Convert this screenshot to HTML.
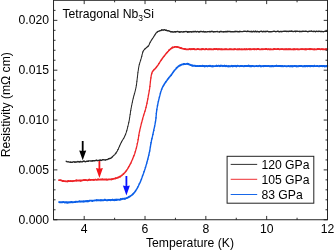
<!DOCTYPE html>
<html><head><meta charset="utf-8"><style>
html,body{margin:0;padding:0;background:#fff}
svg{display:block}
text{font-family:"Liberation Sans",sans-serif;font-size:12.2px;fill:#000;filter:grayscale(1)}
</style></head><body>
<svg width="334" height="251" viewBox="0 0 334 251">
<rect width="334" height="251" fill="#fff"/>
<g fill="none" stroke-linejoin="round" stroke-linecap="round">
<g stroke="#262626"><path d="M66.2 161.2L66.8 161.7L67.6 161.9L68.5 161.8L69.5 162.1L70.5 162.2" stroke-width="1.38"/><path d="M70.5 162.2L71.3 162.3L72.2 162.4L73.1 161.9L74.1 161.8L75.0 162.2" stroke-width="1.40"/><path d="M75.0 162.2L76.0 161.9L76.8 162.0L77.7 161.5L78.6 161.7L79.5 161.9" stroke-width="1.40"/><path d="M79.5 161.9L80.4 161.5L81.3 161.9L82.3 161.8L83.1 161.3L83.9 161.2" stroke-width="1.39"/><path d="M83.9 161.2L84.8 161.5L85.6 161.7L86.5 161.3L87.4 161.1L88.3 161.2" stroke-width="1.40"/><path d="M88.3 161.2L89.1 160.9L90.0 160.9L90.8 161.0L91.7 161.0L92.5 160.8" stroke-width="1.40"/><path d="M92.5 160.8L93.4 160.7L94.2 160.6L95.0 160.7L95.8 160.5L96.6 160.3" stroke-width="1.39"/><path d="M96.6 160.3L97.4 160.7L98.3 160.4L99.2 160.4L100.1 160.0L101.0 160.4" stroke-width="1.40"/><path d="M101.0 160.4L101.9 160.2L102.7 159.7L103.4 159.8L104.0 159.9L105.1 159.9" stroke-width="1.39"/><path d="M105.1 159.9L105.7 160.0L106.5 159.6L107.2 159.6L108.1 159.2L109.0 158.7" stroke-width="1.37"/><path d="M109.0 158.7L109.8 158.5L110.5 158.4L111.3 157.9L111.9 157.3L112.5 156.7" stroke-width="1.30"/><path d="M112.5 156.7L113.3 155.9L114.0 155.2L114.8 154.6L115.3 153.8L115.9 153.1" stroke-width="1.18"/><path d="M115.9 153.1L116.4 152.4L116.8 151.7L117.2 151.1L117.5 150.6L118.0 149.5" stroke-width="1.11"/><path d="M118.0 149.5L118.3 149.0L118.5 148.4L118.9 147.6L119.2 146.9L119.6 146.1" stroke-width="1.07"/><path d="M119.6 146.1L119.9 145.2L120.3 144.4L120.7 143.6L121.1 142.8L121.5 142.0" stroke-width="1.07"/><path d="M121.5 142.0L121.9 141.2L122.3 140.5L122.7 139.8L123.1 139.2L123.6 138.4" stroke-width="1.10"/><path d="M123.6 138.4L124.0 137.7L124.4 136.9L124.8 136.1L125.2 135.2L125.6 134.3" stroke-width="1.08"/><path d="M125.6 134.3L125.8 133.6L126.1 132.9L126.3 132.2L126.5 131.5L126.8 130.7" stroke-width="1.04"/><path d="M126.8 130.7L127.0 129.9L127.2 129.1L127.4 128.3L127.6 127.5L127.8 126.7" stroke-width="1.03"/><path d="M127.8 126.7L128.0 125.8L128.2 125.0L128.4 124.2L128.6 123.3L128.8 122.5" stroke-width="1.02"/><path d="M128.8 122.5L129.0 121.7L129.1 120.9L129.3 120.1L129.4 119.3L129.5 118.5" stroke-width="1.01"/><path d="M129.5 118.5L129.7 117.7L129.8 116.8L129.9 116.0L130.0 115.2L130.2 114.3" stroke-width="1.01"/><path d="M130.2 114.3L130.3 113.5L130.4 112.7L130.5 111.9L130.6 111.1L130.8 110.4" stroke-width="1.01"/><path d="M130.8 110.4L130.9 109.6L131.1 108.7L131.2 107.8L131.4 107.0L131.5 106.1" stroke-width="1.01"/><path d="M131.5 106.1L131.7 105.3L131.9 104.5L132.0 103.7L132.2 102.9L132.4 102.1" stroke-width="1.02"/><path d="M132.4 102.1L132.5 101.3L132.7 100.4L132.9 99.6L133.1 98.8L133.3 98.0" stroke-width="1.02"/><path d="M133.3 98.0L133.5 97.1L133.7 96.3L134.0 95.5L134.2 94.6L134.4 93.8" stroke-width="1.03"/><path d="M134.4 93.8L134.7 93.0L134.9 92.2L135.1 91.3L135.3 90.5L135.5 89.7" stroke-width="1.03"/><path d="M135.5 89.7L135.7 88.8L135.9 88.0L136.1 87.2L136.2 86.3L136.3 85.5" stroke-width="1.01"/><path d="M136.3 85.5L136.5 84.7L136.6 83.8L136.7 83.0L136.8 82.1L136.9 81.3" stroke-width="1.01"/><path d="M136.9 81.3L137.0 80.4L137.1 79.6L137.2 78.8L137.3 77.9L137.4 77.1" stroke-width="1.01"/><path d="M137.4 77.1L137.5 76.3L137.6 75.4L137.7 74.6L137.8 73.7L137.9 72.8" stroke-width="1.01"/><path d="M137.9 72.8L138.0 72.0L138.1 71.1L138.3 70.3L138.4 69.4L138.5 68.6" stroke-width="1.01"/><path d="M138.5 68.6L138.6 67.8L138.8 67.1L138.9 66.3L139.1 65.4L139.3 64.5" stroke-width="1.02"/><path d="M139.3 64.5L139.6 63.6L139.8 62.7L140.1 61.9L140.3 61.1L140.6 60.3" stroke-width="1.03"/><path d="M140.6 60.3L140.8 59.5L141.1 58.7L141.3 57.9L141.5 57.0L141.8 56.2" stroke-width="1.03"/><path d="M141.8 56.2L142.0 55.3L142.1 54.5L142.4 53.7L142.6 52.9L142.8 52.1" stroke-width="1.03"/><path d="M142.8 52.1L143.1 51.4L143.5 50.7L144.0 50.0L144.6 49.3L145.2 48.7" stroke-width="1.13"/><path d="M145.2 48.7L145.9 48.1L146.6 47.5L147.2 47.1L147.8 46.5L148.3 46.0" stroke-width="1.22"/><path d="M148.3 46.0L148.9 45.2L149.2 44.5L149.5 43.7L149.8 43.0L150.3 42.1" stroke-width="1.08"/><path d="M150.3 42.1L150.7 41.5L151.1 40.8L151.5 40.1L152.0 39.3L152.5 38.6" stroke-width="1.11"/><path d="M152.5 38.6L152.9 38.0L153.4 37.3L153.8 36.6L154.3 35.8L154.8 35.0" stroke-width="1.12"/><path d="M154.8 35.0L155.3 34.3L155.7 33.6L156.2 32.9L156.7 32.5L157.5 31.8" stroke-width="1.17"/><path d="M157.5 31.8L158.3 31.3L159.1 31.2L160.0 30.6L160.8 30.6L161.7 30.0" stroke-width="1.34"/><path d="M161.7 30.0L162.6 29.9L163.5 30.2L164.3 29.7L165.3 30.2L166.2 30.3" stroke-width="1.40"/><path d="M166.2 30.3L167.1 30.7L168.0 30.7L169.1 31.0L170.0 31.3L171.0 31.8" stroke-width="1.36"/><path d="M171.0 31.8L172.0 31.8L172.9 32.0L174.0 32.0L174.8 31.6L175.7 31.8" stroke-width="1.40"/><path d="M175.7 31.8L176.6 31.6L177.4 31.5L178.0 31.5L178.8 32.0L179.6 32.0" stroke-width="1.40"/><path d="M179.6 32.0L180.4 32.0L181.2 31.7L182.0 31.9L182.8 32.0L183.6 31.7" stroke-width="1.40"/><path d="M183.6 31.7L184.4 31.8L185.2 31.6L186.0 31.5L186.8 31.6L187.6 32.0" stroke-width="1.40"/><path d="M187.6 32.0L188.4 31.8L189.2 32.0L190.0 31.7L190.8 31.6L191.6 31.9" stroke-width="1.40"/><path d="M191.6 31.9L192.4 31.9L193.2 31.5L194.0 31.8L194.8 31.5L195.6 31.5" stroke-width="1.40"/><path d="M195.6 31.5L196.4 32.0L197.2 31.5L198.0 31.6L198.8 32.0L199.6 31.7" stroke-width="1.40"/><path d="M199.6 31.7L200.4 31.5L201.2 31.5L202.0 31.6L202.8 31.9L203.6 31.5" stroke-width="1.40"/><path d="M203.6 31.5L204.4 32.0L205.2 31.6L206.0 32.0L206.8 31.9L207.6 31.6" stroke-width="1.40"/><path d="M207.6 31.6L208.4 31.6L209.2 31.7L210.0 31.5L210.8 31.8L211.6 31.4" stroke-width="1.40"/><path d="M211.6 31.4L212.4 31.4L213.2 32.0L214.0 31.6L214.8 31.7L215.6 31.6" stroke-width="1.40"/><path d="M215.6 31.6L216.4 31.6L217.2 31.4L218.0 31.9L218.8 31.9L219.6 31.9" stroke-width="1.40"/><path d="M219.6 31.9L220.4 31.4L221.2 31.5L222.0 31.7L222.8 31.9L223.6 31.7" stroke-width="1.40"/><path d="M223.6 31.7L224.4 31.8L225.2 31.7L226.0 31.5L226.8 31.7L227.6 31.5" stroke-width="1.40"/><path d="M227.6 31.5L228.4 31.5L229.2 31.4L230.0 31.5L230.8 31.9L231.6 31.6" stroke-width="1.40"/><path d="M231.6 31.6L232.4 31.7L233.2 31.7L234.0 31.9L234.8 31.5L235.6 31.5" stroke-width="1.40"/><path d="M235.6 31.5L236.4 31.5L237.2 31.5L238.0 31.8L238.8 31.8L239.6 31.5" stroke-width="1.40"/><path d="M239.6 31.5L240.4 31.5L241.2 31.6L242.0 31.6L242.8 31.6L243.6 31.4" stroke-width="1.40"/><path d="M243.6 31.4L244.4 31.3L245.2 31.4L246.0 31.3L246.8 31.6L247.6 31.3" stroke-width="1.40"/><path d="M247.6 31.3L248.4 31.3L249.2 31.6L250.0 31.4L250.8 31.7L251.6 31.5" stroke-width="1.40"/><path d="M251.6 31.5L252.4 31.8L253.2 31.3L254.0 31.5L254.8 31.7L255.6 31.3" stroke-width="1.40"/><path d="M255.6 31.3L256.4 31.8L257.2 31.3L258.0 31.7L258.8 31.8L259.6 31.7" stroke-width="1.40"/><path d="M259.6 31.7L260.4 31.4L261.2 31.3L262.0 31.5L262.8 31.8L263.6 31.4" stroke-width="1.40"/><path d="M263.6 31.4L264.4 31.7L265.2 31.3L266.0 31.8L266.8 31.2L267.6 31.4" stroke-width="1.40"/><path d="M267.6 31.4L268.4 31.7L269.2 31.7L270.0 31.7L270.8 31.7L271.6 31.6" stroke-width="1.40"/><path d="M271.6 31.6L272.4 31.6L273.2 31.3L274.0 31.4L274.8 31.3L275.6 31.6" stroke-width="1.40"/><path d="M275.6 31.6L276.4 31.6L277.2 31.3L278.0 31.2L278.8 31.7L279.6 31.6" stroke-width="1.40"/><path d="M279.6 31.6L280.4 31.5L281.2 31.5L282.0 31.7L282.8 31.4L283.6 31.4" stroke-width="1.40"/><path d="M283.6 31.4L284.4 31.3L285.2 31.3L286.0 31.2L286.8 31.5L287.6 31.4" stroke-width="1.40"/><path d="M287.6 31.4L288.4 31.5L289.2 31.2L290.0 31.3L290.8 31.2L291.6 31.2" stroke-width="1.40"/><path d="M291.6 31.2L292.4 31.3L293.2 31.6L294.0 31.4L294.8 31.3L295.6 31.5" stroke-width="1.40"/><path d="M295.6 31.5L296.4 31.2L297.2 31.1L298.0 31.4L298.8 31.4L299.6 31.5" stroke-width="1.40"/><path d="M299.6 31.5L300.4 31.4L301.2 31.5L302.0 31.5L302.8 31.2L303.6 31.4" stroke-width="1.40"/><path d="M303.6 31.4L304.4 31.4L305.2 31.2L306.0 31.3L306.8 31.4L307.6 31.6" stroke-width="1.40"/><path d="M307.6 31.6L308.4 31.6L309.2 31.2L310.0 31.4L310.8 31.1L311.6 31.1" stroke-width="1.39"/><path d="M311.6 31.1L312.4 31.4L313.2 31.6L314.0 31.1L314.8 31.5L315.6 31.6" stroke-width="1.39"/><path d="M315.6 31.6L316.4 31.2L317.2 31.4L318.0 31.5L318.8 31.3L319.6 31.4" stroke-width="1.40"/><path d="M319.6 31.4L320.4 31.5L321.2 31.4L322.0 31.5L322.8 31.6L323.6 31.6" stroke-width="1.40"/><path d="M323.6 31.6L324.4 31.4L325.2 31.1L326.0 31.2L326.8 31.1L327.3 31.3" stroke-width="1.40"/></g>
<g stroke="#ee2428"><path d="M59.0 180.1L59.5 180.2L60.2 180.0L61.1 180.3L62.0 180.8L63.0 181.0" stroke-width="1.82"/><path d="M63.0 181.0L64.1 181.2L65.1 181.1L65.9 181.3L66.7 181.3L67.5 181.3" stroke-width="1.85"/><path d="M67.5 181.3L68.4 181.0L69.3 181.1L70.2 181.0L71.1 181.1L72.1 181.2" stroke-width="1.85"/><path d="M72.1 181.2L73.0 181.1L73.8 180.9L74.6 180.8L75.5 180.7L76.3 180.5" stroke-width="1.83"/><path d="M76.3 180.5L77.2 180.5L78.0 180.6L78.9 180.5L79.8 180.5L80.6 180.7" stroke-width="1.85"/><path d="M80.6 180.7L81.5 180.5L82.3 180.4L83.2 180.2L84.1 180.0L85.0 180.1" stroke-width="1.84"/><path d="M85.0 180.1L85.8 180.0L86.7 180.1L87.6 180.3L88.4 180.0L89.3 179.7" stroke-width="1.85"/><path d="M89.3 179.7L90.1 180.0L91.0 179.9L91.9 179.9L92.8 179.9L93.7 179.8" stroke-width="1.85"/><path d="M93.7 179.8L94.6 179.8L95.5 179.5L96.4 179.8L97.3 179.8L98.1 179.4" stroke-width="1.84"/><path d="M98.1 179.4L98.9 179.6L99.6 179.6L100.7 179.5L101.7 179.5L102.5 179.4" stroke-width="1.85"/><path d="M102.5 179.4L103.4 179.6L104.2 179.4L105.0 179.6L106.0 179.3L106.9 179.6" stroke-width="1.85"/><path d="M106.9 179.6L107.8 179.6L108.7 179.3L109.6 179.3L110.6 179.4L111.6 179.3" stroke-width="1.85"/><path d="M111.6 179.3L112.6 179.0L113.5 178.8L114.3 178.7L115.1 178.6L115.8 178.2" stroke-width="1.81"/><path d="M115.8 178.2L116.7 178.2L117.5 177.6L118.3 177.5L119.2 176.9L120.1 176.6" stroke-width="1.78"/><path d="M120.1 176.6L121.0 176.0L121.6 175.5L122.3 175.0L122.9 174.5L123.5 173.9" stroke-width="1.62"/><path d="M123.5 173.9L124.1 173.3L124.8 172.6L125.4 171.9L125.9 171.3L126.4 170.6" stroke-width="1.51"/><path d="M126.4 170.6L126.9 169.8L127.4 169.1L127.9 168.3L128.4 167.5L128.8 166.7" stroke-width="1.42"/><path d="M128.8 166.7L129.3 165.9L129.7 165.2L130.1 164.4L130.5 163.7L130.9 163.0" stroke-width="1.39"/><path d="M130.9 163.0L131.2 162.3L131.5 161.5L131.8 160.8L132.2 160.0L132.5 159.2" stroke-width="1.35"/><path d="M132.5 159.2L132.8 158.5L133.1 157.8L133.4 157.1L133.6 156.4L133.9 155.7" stroke-width="1.33"/><path d="M133.9 155.7L134.2 154.9L134.5 154.2L134.8 153.4L135.0 152.5L135.3 151.7" stroke-width="1.31"/><path d="M135.3 151.7L135.5 151.0L135.7 150.2L135.9 149.5L136.1 148.7L136.4 147.9" stroke-width="1.29"/><path d="M136.4 147.9L136.6 147.1L136.8 146.2L137.0 145.4L137.1 144.6L137.3 143.7" stroke-width="1.28"/><path d="M137.3 143.7L137.5 142.9L137.7 142.0L137.9 141.2L138.0 140.4L138.1 139.6" stroke-width="1.27"/><path d="M138.1 139.6L138.3 138.8L138.4 138.0L138.5 137.2L138.7 136.3L138.8 135.5" stroke-width="1.26"/><path d="M138.8 135.5L138.9 134.6L139.1 133.8L139.2 132.9L139.4 132.0L139.6 131.1" stroke-width="1.27"/><path d="M139.6 131.1L139.8 130.3L139.9 129.6L140.1 128.8L140.3 128.0L140.5 127.1" stroke-width="1.28"/><path d="M140.5 127.1L140.7 126.3L140.9 125.5L141.1 124.6L141.3 123.8L141.5 123.0" stroke-width="1.29"/><path d="M141.5 123.0L141.8 122.1L142.0 121.3L142.2 120.5L142.4 119.7L142.6 119.0" stroke-width="1.29"/><path d="M142.6 119.0L142.8 118.2L143.0 117.4L143.3 116.5L143.5 115.7L143.7 115.0" stroke-width="1.30"/><path d="M143.7 115.0L144.0 114.2L144.2 113.4L144.5 112.7L144.7 111.9L144.9 111.2" stroke-width="1.30"/><path d="M144.9 111.2L145.2 110.4L145.4 109.7L145.6 108.9L145.8 108.2L146.0 107.4" stroke-width="1.29"/><path d="M146.0 107.4L146.2 106.6L146.4 105.7L146.6 104.9L146.8 104.0L147.0 103.1" stroke-width="1.28"/><path d="M147.0 103.1L147.1 102.3L147.3 101.4L147.5 100.6L147.6 99.8L147.8 98.9" stroke-width="1.27"/><path d="M147.8 98.9L147.9 98.1L148.1 97.4L148.2 96.6L148.4 95.7L148.5 94.8" stroke-width="1.27"/><path d="M148.5 94.8L148.7 93.9L148.9 93.1L149.0 92.3L149.1 91.5L149.3 90.7" stroke-width="1.27"/><path d="M149.3 90.7L149.4 89.8L149.6 88.9L149.7 88.0L149.8 87.2L149.9 86.4" stroke-width="1.26"/><path d="M149.9 86.4L150.0 85.5L150.1 84.6L150.2 83.7L150.3 82.8L150.4 81.9" stroke-width="1.26"/><path d="M150.4 81.9L150.5 81.0L150.6 80.1L150.7 79.3L150.8 78.5L150.9 77.8" stroke-width="1.26"/><path d="M150.9 77.8L151.0 77.1L151.2 76.0L151.3 75.1L151.5 74.4L151.7 73.7" stroke-width="1.27"/><path d="M151.7 73.7L151.9 73.0L152.1 72.4L152.5 71.7L152.9 71.0L153.5 70.4" stroke-width="1.39"/><path d="M153.5 70.4L154.0 69.7L154.7 69.1L155.3 68.5L156.0 67.8L156.6 66.9" stroke-width="1.52"/><path d="M156.6 66.9L157.0 66.4L157.5 65.7L158.0 65.1L158.4 64.3L158.9 63.6" stroke-width="1.44"/><path d="M158.9 63.6L159.4 62.8L159.8 62.1L160.3 61.4L160.7 60.8L161.2 60.1" stroke-width="1.43"/><path d="M161.2 60.1L161.8 59.3L162.3 58.5L162.8 57.8L163.4 57.1L163.9 56.4" stroke-width="1.46"/><path d="M163.9 56.4L164.4 55.8L165.0 55.0L165.5 54.4L166.0 53.7L166.6 53.0" stroke-width="1.48"/><path d="M166.6 53.0L167.2 52.5L167.7 51.8L168.3 51.2L168.8 50.6L169.3 50.0" stroke-width="1.52"/><path d="M169.3 50.0L169.8 49.6L170.5 49.0L171.2 48.5L171.8 48.0L172.5 47.5" stroke-width="1.62"/><path d="M172.5 47.5L173.2 47.3L174.1 47.2L175.0 46.8L175.9 46.8L176.9 46.8" stroke-width="1.83"/><path d="M176.9 46.8L177.8 47.1L178.6 47.2L179.5 47.6L180.3 48.0L181.1 48.1" stroke-width="1.80"/><path d="M181.1 48.1L181.9 48.4L182.8 48.7L183.6 48.8L184.5 49.0L185.4 49.2" stroke-width="1.81"/><path d="M185.4 49.2L186.2 49.4L187.3 49.3L188.4 49.4L189.3 49.0L190.0 49.1" stroke-width="1.85"/><path d="M190.0 49.1L190.8 49.4L191.6 49.0L192.4 49.2L193.2 49.0L194.0 49.0" stroke-width="1.85"/><path d="M194.0 49.0L194.8 49.4L195.6 49.4L196.4 49.3L197.2 49.0L198.0 49.1" stroke-width="1.85"/><path d="M198.0 49.1L198.8 49.1L199.6 49.3L200.4 49.3L201.2 49.2L202.0 49.2" stroke-width="1.85"/><path d="M202.0 49.2L202.8 49.0L203.6 49.2L204.4 49.4L205.2 49.3L206.0 49.0" stroke-width="1.85"/><path d="M206.0 49.0L206.8 49.2L207.6 49.3L208.4 49.1L209.2 49.4L210.0 49.2" stroke-width="1.85"/><path d="M210.0 49.2L210.8 49.3L211.6 49.2L212.4 49.4L213.2 49.3L214.0 49.2" stroke-width="1.85"/><path d="M214.0 49.2L214.8 49.0L215.6 49.2L216.4 49.0L217.2 49.2L218.0 49.4" stroke-width="1.85"/><path d="M218.0 49.4L218.8 49.0L219.6 49.2L220.4 49.2L221.2 49.2L222.0 49.3" stroke-width="1.85"/><path d="M222.0 49.3L222.8 49.4L223.6 49.3L224.4 49.2L225.2 49.4L226.0 49.1" stroke-width="1.85"/><path d="M226.0 49.1L226.8 49.3L227.6 49.3L228.4 49.3L229.2 49.4L230.0 49.1" stroke-width="1.85"/><path d="M230.0 49.1L230.8 49.3L231.6 49.2L232.4 49.3L233.2 49.4L234.0 49.3" stroke-width="1.85"/><path d="M234.0 49.3L234.8 49.0L235.6 49.2L236.4 49.3L237.2 49.4L238.0 49.3" stroke-width="1.85"/><path d="M238.0 49.3L238.8 49.4L239.6 49.0L240.4 49.4L241.2 49.3L242.0 49.3" stroke-width="1.85"/><path d="M242.0 49.3L242.8 49.4L243.6 49.4L244.4 49.0L245.2 49.4L246.0 49.3" stroke-width="1.85"/><path d="M246.0 49.3L246.8 49.0L247.6 49.3L248.4 49.2L249.2 49.0L250.0 49.4" stroke-width="1.85"/><path d="M250.0 49.4L250.8 49.0L251.6 49.3L252.4 49.2L253.2 49.1L254.0 49.2" stroke-width="1.85"/><path d="M254.0 49.2L254.8 49.2L255.6 49.1L256.4 49.4L257.2 49.0L258.0 49.0" stroke-width="1.85"/><path d="M258.0 49.0L258.8 49.2L259.6 49.4L260.4 49.3L261.2 49.3L262.0 49.2" stroke-width="1.85"/><path d="M262.0 49.2L262.8 49.3L263.6 49.1L264.4 49.1L265.2 49.2L266.0 49.0" stroke-width="1.85"/><path d="M266.0 49.0L266.8 49.0L267.6 49.3L268.4 49.0L269.2 49.3L270.0 49.3" stroke-width="1.84"/><path d="M270.0 49.3L270.8 49.2L271.6 49.3L272.4 49.3L273.2 49.4L274.0 49.0" stroke-width="1.85"/><path d="M274.0 49.0L274.8 49.0L275.6 49.1L276.4 49.2L277.2 49.1L278.0 49.0" stroke-width="1.85"/><path d="M278.0 49.0L278.8 49.2L279.6 49.4L280.4 49.1L281.2 49.2L282.0 49.1" stroke-width="1.85"/><path d="M282.0 49.1L282.8 49.2L283.6 49.4L284.4 49.1L285.2 49.3L286.0 49.2" stroke-width="1.85"/><path d="M286.0 49.2L286.8 49.2L287.6 49.4L288.4 49.0L289.2 49.4L290.0 49.1" stroke-width="1.85"/><path d="M290.0 49.1L290.8 49.3L291.6 49.3L292.4 49.3L293.2 49.1L294.0 49.4" stroke-width="1.85"/><path d="M294.0 49.4L294.8 49.0L295.6 49.3L296.4 49.1L297.2 49.2L298.0 49.4" stroke-width="1.85"/><path d="M298.0 49.4L298.8 49.3L299.6 49.3L300.4 49.1L301.2 49.1L302.0 49.2" stroke-width="1.85"/><path d="M302.0 49.2L302.8 49.1L303.6 49.1L304.4 49.4L305.2 49.0L306.0 49.4" stroke-width="1.85"/><path d="M306.0 49.4L306.8 49.1L307.6 49.1L308.4 49.1L309.2 49.0L310.0 49.2" stroke-width="1.85"/><path d="M310.0 49.2L310.8 49.0L311.6 49.2L312.4 49.1L313.2 49.4L314.0 49.4" stroke-width="1.85"/><path d="M314.0 49.4L314.8 49.2L315.6 49.3L316.4 49.4L317.2 49.1L318.0 49.0" stroke-width="1.84"/><path d="M318.0 49.0L318.8 49.1L319.6 49.0L320.4 49.3L321.2 49.1L322.0 49.1" stroke-width="1.85"/><path d="M322.0 49.1L322.8 49.3L323.6 49.1L324.4 49.4L325.2 49.3L326.0 49.2" stroke-width="1.85"/><path d="M326.0 49.2L326.8 49.4L327.3 49.1" stroke-width="1.85"/></g>
<g stroke="#0b5fe8"><path d="M59.2 202.1L59.7 202.2L60.4 202.2L61.2 202.3L62.2 202.3L63.1 202.1" stroke-width="1.95"/><path d="M63.1 202.1L64.1 202.1L65.0 202.5L65.8 202.2L66.5 202.2L67.2 202.6" stroke-width="1.94"/><path d="M67.2 202.6L68.0 202.3L68.7 202.5L69.6 202.3L70.5 202.3L71.5 202.0" stroke-width="1.94"/><path d="M71.5 202.0L72.2 202.2L72.9 202.3L73.6 202.1L74.4 202.1L75.2 202.0" stroke-width="1.95"/><path d="M75.2 202.0L76.0 201.7L76.9 201.9L77.7 201.8L78.6 201.6L79.5 201.4" stroke-width="1.94"/><path d="M79.5 201.4L80.3 201.7L81.2 201.4L82.0 201.5L82.8 201.5L83.7 201.4" stroke-width="1.95"/><path d="M83.7 201.4L84.5 201.4L85.4 201.1L86.2 201.2L87.1 201.0L88.0 201.2" stroke-width="1.95"/><path d="M88.0 201.2L88.8 201.1L89.7 200.6L90.5 200.6L91.4 200.6L92.3 200.9" stroke-width="1.95"/><path d="M92.3 200.9L93.1 200.6L94.0 200.6L94.8 200.4L95.7 200.4L96.6 200.3" stroke-width="1.94"/><path d="M96.6 200.3L97.5 200.3L98.4 200.3L99.2 200.3L100.1 200.4L100.9 200.2" stroke-width="1.95"/><path d="M100.9 200.2L101.7 200.3L102.5 200.2L103.3 200.3L104.0 200.1L105.0 199.8" stroke-width="1.94"/><path d="M105.0 199.8L105.8 200.1L106.7 200.2L107.5 200.2L108.2 200.0L108.9 200.1" stroke-width="1.95"/><path d="M108.9 200.1L109.7 199.9L110.4 200.2L111.2 200.0L112.0 199.9L112.8 199.8" stroke-width="1.95"/><path d="M112.8 199.8L113.6 200.1L114.4 200.2L115.2 199.7L116.0 200.0L116.8 199.8" stroke-width="1.95"/><path d="M116.8 199.8L117.6 199.6L118.4 199.6L119.2 199.7L120.1 199.7L120.9 199.1" stroke-width="1.93"/><path d="M120.9 199.1L121.8 199.2L122.6 198.8L123.4 198.9L124.2 198.6L124.9 198.7" stroke-width="1.94"/><path d="M124.9 198.7L125.6 198.5L126.7 198.0L127.6 197.8L128.4 197.2L129.2 196.7" stroke-width="1.85"/><path d="M129.2 196.7L129.9 196.5L130.7 195.9L131.4 195.4L132.1 194.9L132.7 194.3" stroke-width="1.76"/><path d="M132.7 194.3L133.3 193.7L133.8 193.1L134.4 192.6L134.9 191.9L135.4 191.2" stroke-width="1.61"/><path d="M135.4 191.2L135.9 190.4L136.5 189.5L137.0 188.6L137.4 187.9L137.7 187.2" stroke-width="1.50"/><path d="M137.7 187.2L138.1 186.5L138.5 185.8L138.8 185.0L139.2 184.2L139.5 183.5" stroke-width="1.46"/><path d="M139.5 183.5L139.8 182.9L140.2 182.3L140.5 181.5L140.9 180.5L141.4 179.2" stroke-width="1.45"/><path d="M141.4 179.2L141.6 178.6L141.8 178.0L142.1 177.3L142.3 176.6L142.6 175.8" stroke-width="1.42"/><path d="M142.6 175.8L142.9 175.0L143.2 174.2L143.5 173.4L143.8 172.5L144.1 171.6" stroke-width="1.42"/><path d="M144.1 171.6L144.4 170.8L144.7 169.9L145.0 169.0L145.2 168.2L145.5 167.3" stroke-width="1.41"/><path d="M145.5 167.3L145.8 166.5L146.0 165.7L146.2 164.9L146.5 164.0L146.7 163.2" stroke-width="1.40"/><path d="M146.7 163.2L146.9 162.4L147.2 161.6L147.4 160.7L147.6 159.9L147.8 159.1" stroke-width="1.39"/><path d="M147.8 159.1L148.0 158.3L148.2 157.5L148.4 156.7L148.6 155.9L148.8 155.1" stroke-width="1.38"/><path d="M148.8 155.1L149.0 154.3L149.1 153.5L149.3 152.8L149.5 151.9L149.7 151.0" stroke-width="1.38"/><path d="M149.7 151.0L149.8 150.2L150.0 149.3L150.1 148.5L150.2 147.7L150.4 146.9" stroke-width="1.37"/><path d="M150.4 146.9L150.5 146.1L150.6 145.3L150.8 144.5L150.9 143.6L151.0 142.8" stroke-width="1.37"/><path d="M151.0 142.8L151.2 142.0L151.4 141.2L151.5 140.3L151.7 139.5L151.9 138.7" stroke-width="1.37"/><path d="M151.9 138.7L152.1 137.8L152.3 137.0L152.5 136.1L152.7 135.3L152.9 134.4" stroke-width="1.38"/><path d="M152.9 134.4L153.1 133.6L153.2 132.8L153.4 131.9L153.6 131.1L153.8 130.3" stroke-width="1.38"/><path d="M153.8 130.3L153.9 129.4L154.1 128.6L154.3 127.8L154.5 126.9L154.6 126.1" stroke-width="1.38"/><path d="M154.6 126.1L154.8 125.3L155.0 124.4L155.1 123.6L155.3 122.8L155.4 122.0" stroke-width="1.37"/><path d="M155.4 122.0L155.6 121.1L155.7 120.3L155.8 119.5L155.9 118.6L156.0 117.8" stroke-width="1.36"/><path d="M156.0 117.8L156.1 117.0L156.1 116.2L156.2 115.4L156.3 114.5L156.3 113.7" stroke-width="1.35"/><path d="M156.3 113.7L156.4 112.9L156.5 112.1L156.6 111.3L156.7 110.4L156.8 109.6" stroke-width="1.36"/><path d="M156.8 109.6L156.9 108.8L157.1 107.9L157.2 107.1L157.4 106.3L157.5 105.5" stroke-width="1.37"/><path d="M157.5 105.5L157.7 104.6L157.9 103.8L158.0 103.0L158.2 102.1L158.4 101.3" stroke-width="1.38"/><path d="M158.4 101.3L158.6 100.5L158.8 99.6L159.0 98.8L159.2 98.0L159.4 97.2" stroke-width="1.38"/><path d="M159.4 97.2L159.6 96.4L159.8 95.7L160.0 94.9L160.2 94.1L160.4 93.3" stroke-width="1.39"/><path d="M160.4 93.3L160.6 92.5L160.8 91.7L161.1 90.9L161.3 90.2L161.6 89.4" stroke-width="1.40"/><path d="M161.6 89.4L161.9 88.7L162.2 88.0L162.6 87.2L163.0 86.4L163.5 85.6" stroke-width="1.46"/><path d="M163.5 85.6L163.9 84.8L164.4 84.0L164.9 83.2L165.4 82.5L165.9 81.8" stroke-width="1.53"/><path d="M165.9 81.8L166.4 81.1L166.9 80.5L167.3 79.8L167.7 79.3L168.4 78.4" stroke-width="1.55"/><path d="M168.4 78.4L169.0 77.6L169.5 77.0L170.0 76.4L170.5 75.9L171.1 75.2" stroke-width="1.60"/><path d="M171.1 75.2L171.6 74.5L172.1 73.8L172.6 73.0L173.1 72.3L173.6 71.6" stroke-width="1.54"/><path d="M173.6 71.6L174.1 70.8L174.7 70.1L175.3 69.6L175.9 68.9L176.5 68.1" stroke-width="1.59"/><path d="M176.5 68.1L177.1 67.5L177.8 66.9L178.4 66.3L179.0 65.9L179.9 65.5" stroke-width="1.72"/><path d="M179.9 65.5L180.7 65.1L181.6 64.7L182.5 64.4L183.3 64.3L184.1 64.0" stroke-width="1.89"/><path d="M184.1 64.0L185.0 64.1L185.8 64.1L186.6 63.9L187.4 63.8L188.2 64.0" stroke-width="1.95"/><path d="M188.2 64.0L189.0 64.3L189.8 64.7L190.6 65.1L191.4 65.1L192.3 65.6" stroke-width="1.87"/><path d="M192.3 65.6L193.1 65.7L193.9 65.7L194.8 65.8L195.7 66.0L196.6 66.1" stroke-width="1.94"/><path d="M196.6 66.1L197.6 66.0L198.4 66.1L199.0 66.0L199.8 65.9L200.6 66.0" stroke-width="1.95"/><path d="M200.6 66.0L201.4 66.1L202.2 65.8L203.0 66.0L203.8 66.0L204.6 66.2" stroke-width="1.95"/><path d="M204.6 66.2L205.4 66.2L206.2 65.9L207.0 66.2L207.8 66.2L208.6 65.9" stroke-width="1.95"/><path d="M208.6 65.9L209.4 66.0L210.2 65.8L211.0 66.2L211.8 66.1L212.6 66.2" stroke-width="1.95"/><path d="M212.6 66.2L213.4 66.2L214.2 66.1L215.0 66.1L215.8 66.0L216.6 65.8" stroke-width="1.94"/><path d="M216.6 65.8L217.4 66.1L218.2 65.8L219.0 65.8L219.8 66.2L220.6 65.8" stroke-width="1.95"/><path d="M220.6 65.8L221.4 65.8L222.2 65.8L223.0 66.2L223.8 65.9L224.6 65.8" stroke-width="1.95"/><path d="M224.6 65.8L225.4 66.2L226.2 65.8L227.0 66.2L227.8 66.1L228.6 66.2" stroke-width="1.94"/><path d="M228.6 66.2L229.4 66.2L230.2 66.1L231.0 66.2L231.8 65.8L232.6 66.2" stroke-width="1.95"/><path d="M232.6 66.2L233.4 66.0L234.2 66.1L235.0 65.8L235.8 66.2L236.6 66.2" stroke-width="1.95"/><path d="M236.6 66.2L237.4 65.8L238.2 65.9L239.0 66.1L239.8 66.2L240.6 65.9" stroke-width="1.95"/><path d="M240.6 65.9L241.4 65.9L242.2 65.9L243.0 66.1L243.8 66.2L244.6 66.0" stroke-width="1.95"/><path d="M244.6 66.0L245.4 66.0L246.2 66.0L247.0 66.0L247.8 66.0L248.6 65.8" stroke-width="1.95"/><path d="M248.6 65.8L249.4 66.0L250.2 66.3L251.0 66.0L251.8 66.2L252.6 65.9" stroke-width="1.95"/><path d="M252.6 65.9L253.4 66.1L254.2 66.2L255.0 66.1L255.8 66.1L256.6 66.0" stroke-width="1.95"/><path d="M256.6 66.0L257.4 66.1L258.2 66.2L259.0 65.9L259.8 65.8L260.6 66.2" stroke-width="1.95"/><path d="M260.6 66.2L261.4 66.3L262.2 66.1L263.0 66.0L263.8 66.2L264.6 65.9" stroke-width="1.95"/><path d="M264.6 65.9L265.4 65.9L266.2 65.9L267.0 66.1L267.8 66.0L268.6 65.9" stroke-width="1.95"/><path d="M268.6 65.9L269.4 66.2L270.2 66.3L271.0 66.0L271.8 66.2L272.6 66.0" stroke-width="1.95"/><path d="M272.6 66.0L273.4 66.2L274.2 66.1L275.0 65.9L275.8 65.9L276.6 65.8" stroke-width="1.95"/><path d="M276.6 65.8L277.4 66.1L278.2 66.0L279.0 65.9L279.8 66.0L280.6 66.0" stroke-width="1.95"/><path d="M280.6 66.0L281.4 66.2L282.2 65.9L283.0 66.3L283.8 66.1L284.6 66.1" stroke-width="1.95"/><path d="M284.6 66.1L285.4 66.1L286.2 66.2L287.0 66.2L287.8 66.1L288.6 66.1" stroke-width="1.95"/><path d="M288.6 66.1L289.4 66.2L290.2 66.2L291.0 66.0L291.8 66.2L292.6 66.3" stroke-width="1.95"/><path d="M292.6 66.3L293.4 66.1L294.2 65.9L295.0 65.9L295.8 66.2L296.6 66.2" stroke-width="1.95"/><path d="M296.6 66.2L297.4 66.3L298.2 66.3L299.0 65.9L299.8 65.9L300.6 66.0" stroke-width="1.95"/><path d="M300.6 66.0L301.4 65.9L302.2 66.2L303.0 66.3L303.8 66.3L304.6 66.0" stroke-width="1.95"/><path d="M304.6 66.0L305.4 66.3L306.2 66.0L307.0 66.0L307.8 66.2L308.6 65.9" stroke-width="1.95"/><path d="M308.6 65.9L309.4 65.9L310.2 66.3L311.0 66.0L311.8 66.0L312.6 66.1" stroke-width="1.95"/><path d="M312.6 66.1L313.4 66.2L314.2 65.8L315.0 66.0L315.8 66.1L316.6 66.1" stroke-width="1.95"/><path d="M316.6 66.1L317.4 65.9L318.2 66.1L319.0 66.3L319.8 66.0L320.6 66.1" stroke-width="1.95"/><path d="M320.6 66.1L321.4 65.9L322.2 66.0L323.0 66.2L323.8 65.9L324.6 66.3" stroke-width="1.95"/><path d="M324.6 66.3L325.4 66.3L326.2 65.9L327.0 66.3L327.3 66.0" stroke-width="1.94"/></g>
</g>
<path d="M82.7 141.0V154.2" stroke="#000" stroke-width="1.8" fill="none"/><path d="M82.7 160.2l-3.5 -9.8l3.5 0.7l3.5 -0.7z" fill="#000"/>
<path d="M99.4 161.0V171.9" stroke="#f5141a" stroke-width="1.8" fill="none"/><path d="M99.4 177.9l-3.5 -9.8l3.5 0.7l3.5 -0.7z" fill="#f5141a"/>
<path d="M126.4 176.0V189.4" stroke="#0a14ff" stroke-width="1.8" fill="none"/><path d="M126.4 195.4l-3.5 -9.8l3.5 0.7l3.5 -0.7z" fill="#0a14ff"/>
<g stroke="#1a1a1a" stroke-width="0.95" fill="none">
<rect x="53.55" y="0.3" width="273.95" height="219.45"/>
<g stroke-width="0.9"><path d="M84.20 219.75v-3.8"/><path d="M84.20 0.30v3.8"/><path d="M114.61 219.75v-2.0"/><path d="M114.61 0.30v2.0"/><path d="M145.02 219.75v-3.8"/><path d="M145.02 0.30v3.8"/><path d="M175.43 219.75v-2.0"/><path d="M175.43 0.30v2.0"/><path d="M205.84 219.75v-3.8"/><path d="M205.84 0.30v3.8"/><path d="M236.25 219.75v-2.0"/><path d="M236.25 0.30v2.0"/><path d="M266.66 219.75v-3.8"/><path d="M266.66 0.30v3.8"/><path d="M297.07 219.75v-2.0"/><path d="M297.07 0.30v2.0"/><path d="M53.55 219.75h3.8"/><path d="M327.50 219.75h-3.8"/><path d="M53.55 209.78h2.0"/><path d="M327.50 209.78h-2.0"/><path d="M53.55 199.81h2.0"/><path d="M327.50 199.81h-2.0"/><path d="M53.55 189.84h2.0"/><path d="M327.50 189.84h-2.0"/><path d="M53.55 179.87h2.0"/><path d="M327.50 179.87h-2.0"/><path d="M53.55 169.90h3.8"/><path d="M327.50 169.90h-3.8"/><path d="M53.55 159.93h2.0"/><path d="M327.50 159.93h-2.0"/><path d="M53.55 149.96h2.0"/><path d="M327.50 149.96h-2.0"/><path d="M53.55 139.99h2.0"/><path d="M327.50 139.99h-2.0"/><path d="M53.55 130.02h2.0"/><path d="M327.50 130.02h-2.0"/><path d="M53.55 120.05h3.8"/><path d="M327.50 120.05h-3.8"/><path d="M53.55 110.08h2.0"/><path d="M327.50 110.08h-2.0"/><path d="M53.55 100.11h2.0"/><path d="M327.50 100.11h-2.0"/><path d="M53.55 90.14h2.0"/><path d="M327.50 90.14h-2.0"/><path d="M53.55 80.17h2.0"/><path d="M327.50 80.17h-2.0"/><path d="M53.55 70.20h3.8"/><path d="M327.50 70.20h-3.8"/><path d="M53.55 60.23h2.0"/><path d="M327.50 60.23h-2.0"/><path d="M53.55 50.26h2.0"/><path d="M327.50 50.26h-2.0"/><path d="M53.55 40.29h2.0"/><path d="M327.50 40.29h-2.0"/><path d="M53.55 30.32h2.0"/><path d="M327.50 30.32h-2.0"/><path d="M53.55 20.35h3.8"/><path d="M327.50 20.35h-3.8"/><path d="M53.55 10.38h2.0"/><path d="M327.50 10.38h-2.0"/></g>
</g>
<text x="84.2" y="233.2" text-anchor="middle">4</text><text x="145.0" y="233.2" text-anchor="middle">6</text><text x="205.8" y="233.2" text-anchor="middle">8</text><text x="266.7" y="233.2" text-anchor="middle">10</text><text x="327.5" y="233.2" text-anchor="middle">12</text><text x="49.1" y="223.6" text-anchor="end">0.000</text><text x="49.1" y="173.7" text-anchor="end">0.005</text><text x="49.1" y="123.8" text-anchor="end">0.010</text><text x="49.1" y="74.0" text-anchor="end">0.015</text><text x="49.1" y="24.1" text-anchor="end">0.020</text>
<text x="62.4" y="18.4">Tetragonal Nb<tspan font-size="8.5" dy="3">3</tspan><tspan dy="-3">Si</tspan></text>
<text x="190" y="247.4" text-anchor="middle">Temperature (K)</text>
<text transform="translate(9.9,104.7) rotate(-90)" text-anchor="middle">Resistivity (mΩ cm)</text>
<rect x="227.1" y="156.3" width="86.7" height="46.9" fill="#fff" stroke="#222" stroke-width="1"/>
<g stroke-width="0.95">
<path d="M230.7 164.4H257.2" stroke="#262626"/>
<path d="M230.7 179.3H257.2" stroke="#ee2428"/>
<path d="M230.7 194.5H257.2" stroke="#0b5fe8"/>
</g>
<text x="261.4" y="168.6">120 GPa</text>
<text x="261.4" y="183.5">105 GPa</text>
<text x="261.4" y="198.7">83 GPa</text>
</svg>
</body></html>
